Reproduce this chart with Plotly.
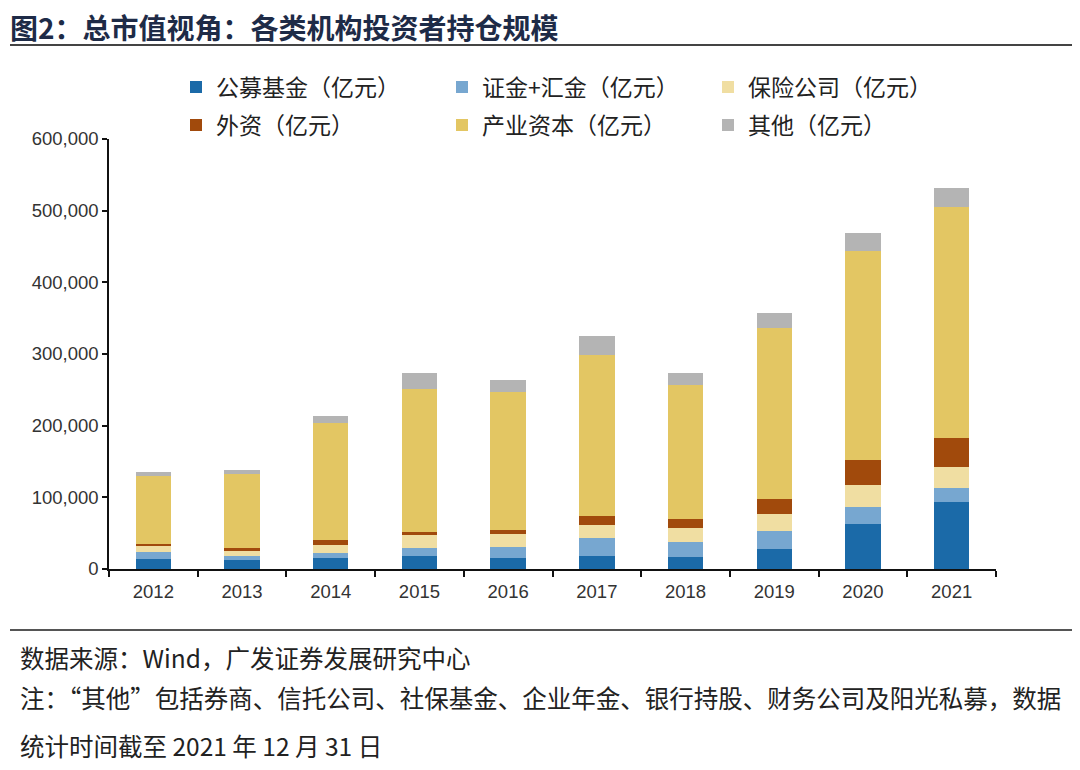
import plotly.graph_objects as go

years = ["2012", "2013", "2014", "2015", "2016", "2017", "2018", "2019", "2020", "2021"]
gongmu = [14000, 12500, 15300, 17600, 16000, 17700, 16300, 27900, 63300, 93500]
zhengjin = [9700, 6000, 7700, 12400, 15000, 25100, 21400, 25100, 23700, 20000]
baoxian = [7800, 7000, 10500, 17800, 17800, 18600, 19500, 24300, 30700, 29300]
waizi = [2800, 4500, 7500, 4200, 6200, 12100, 12100, 19900, 33900, 39600]
chanye = [96000, 103000, 162700, 199000, 192000, 225500, 187400, 239600, 292000, 323000]
qita = [5000, 5500, 10300, 22500, 17000, 26000, 16300, 20900, 25000, 26000]

series = [
    ("公募基金（亿元）", gongmu, "#1B6AA8", "legend"),
    ("证金+汇金（亿元）", zhengjin, "#77A7D0", "legend"),
    ("保险公司（亿元）", baoxian, "#F0DEA2", "legend"),
    ("外资（亿元）", waizi, "#A14A0C", "legend2"),
    ("产业资本（亿元）", chanye, "#E3C663", "legend2"),
    ("其他（亿元）", qita, "#B4B4B4", "legend2"),
]

fig = go.Figure()
for name, vals, color, lg in series:
    fig.add_trace(go.Bar(x=years, y=vals, name=name, marker_color=color,
                         marker_line_width=0, width=0.4, legend=lg))

cjk = "Noto Sans CJK SC"
OFF = 8  # page offset of the figure in the screenshot
W, H = 1080, 770
L = 109 - OFF
T = 139 - OFF
R = W - (996 - OFF)
B = H - (569 - OFF)
PW, PH = W - L - R, H - T - B


def px(x):  # screenshot x -> paper
    return (x - OFF - L) / PW


def py(y):  # screenshot y -> paper
    return (H - B - (y - OFF)) / PH


leg_common = dict(orientation="h", xanchor="left", yanchor="middle",
                  entrywidth=221, entrywidthmode="pixels", traceorder="normal",
                  font=dict(family=cjk, size=23, color="#222222"),
                  itemwidth=30, bgcolor="rgba(0,0,0,0)")

tickfont = dict(family="Liberation Sans, Arial", size=18.5, color="#333333")

fig.update_layout(
    barmode="stack",
    width=W, height=H,
    paper_bgcolor="white", plot_bgcolor="white",
    margin=dict(l=L, r=R, t=T, b=B),
    font=dict(family="Liberation Sans, Arial", size=18.5, color="#333333"),
    legend=dict(x=px(176), y=py(87), **leg_common),
    legend2=dict(x=px(176), y=py(125), **leg_common),
    xaxis=dict(type="category", showline=True, linecolor="#111111", linewidth=1.5,
               ticks="outside", tickson="boundaries", ticklen=6, tickcolor="#111111",
               tickwidth=1.5, showgrid=False, ticklabelstandoff=5, tickfont=tickfont),
    yaxis=dict(range=[0, 600000], dtick=100000, tickformat=",", showline=True,
               linecolor="#111111", linewidth=1.5, ticks="outside", ticklen=5,
               tickcolor="#111111", tickwidth=1.5, showgrid=False, zeroline=False,
               tickfont=tickfont),
)

# title and rules
fig.add_annotation(text="<b>图2：总市值视角：各类机构投资者持仓规模</b>", xref="paper", yref="paper",
                   x=px(9), y=py(27), xanchor="left", yanchor="middle", borderpad=0,
                   showarrow=False, font=dict(family=cjk, size=28, color="#1E2B47"))
fig.add_shape(type="line", xref="paper", yref="paper",
              x0=px(10), x1=px(1072), y0=py(45), y1=py(45),
              line=dict(color="#444444", width=2))
fig.add_shape(type="line", xref="paper", yref="paper",
              x0=px(10), x1=px(1076), y0=py(630), y1=py(630),
              line=dict(color="#555555", width=2))

notes = [
    ("数据来源：Wind，广发证券发展研究中心", 657),
    ("注：“其他”包括券商、信托公司、社保基金、企业年金、银行持股、财务公司及阳光私募，数据", 697),
    ("统计时间截至 2021 年 12 月 31 日", 745),
]
for txt, yy in notes:
    fig.add_annotation(text=txt, xref="paper", yref="paper",
                       x=px(18), y=py(yy), xanchor="left", yanchor="middle",
                       showarrow=False, font=dict(family=cjk, size=24.5, color="#222222"))

fig.write_html("out.html")
